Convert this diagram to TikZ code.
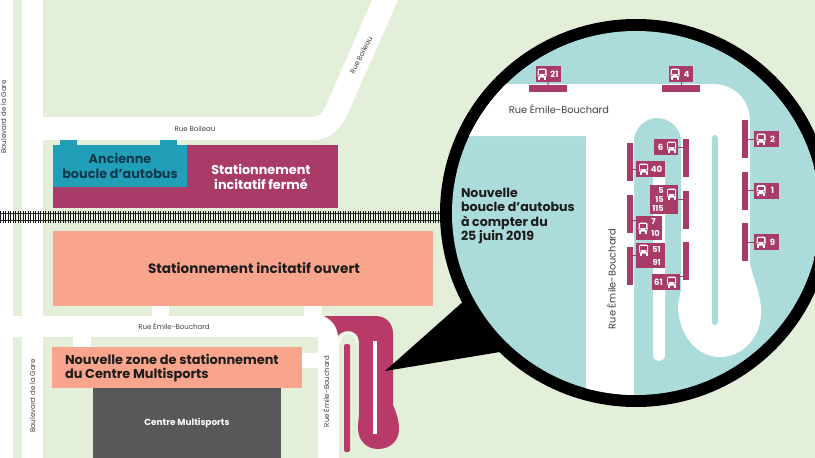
\documentclass[tikz,border=0pt]{standalone}
\usepackage{fontspec}
\setmainfont{Poppins}
\definecolor{bggreen}{HTML}{E3EFD8}
\definecolor{plum}{HTML}{A93B69}
\definecolor{loopred}{HTML}{B83A68}
\definecolor{oldteal}{HTML}{229FB8}
\definecolor{salmon}{HTML}{F9A58E}
\definecolor{slate}{HTML}{58585A}
\definecolor{paleteal}{HTML}{ABDBDB}
\definecolor{navy}{HTML}{0F3A4E}
\definecolor{ink}{HTML}{1D1D1B}
\tikzset{
  road/.style={fill=white, draw=none},
  lot/.style={inner sep=0pt, outer sep=0pt, align=center},
  roadlabel/.style={font=\fontsize{7}{8}\selectfont, text=ink!85, inner sep=0pt},
  stopbox/.style={fill=plum, inner sep=0pt, outer sep=0pt, minimum height=16pt},
  stopnum/.style={text=white, font=\bfseries\fontsize{8.6}{9}\selectfont, inner sep=0pt, align=right},
  hbar/.style={fill=plum, inner sep=0pt, outer sep=0pt, minimum width=38pt, minimum height=6.5pt},
  vbar/.style={fill=plum, inner sep=0pt, outer sep=0pt, minimum width=6pt, minimum height=38pt},
  stem/.style={draw=plum, line width=1pt},
  busicon/.pic={
    \fill[white, rounded corners=1.5pt] (-4.5,-5.5) rectangle (4.5,3.5);
    \fill[white] (-4,3) rectangle (-2,5.5);
    \fill[white] (2,3) rectangle (4,5.5);
    \fill[plum] (-3.2,-3.8) rectangle (3.2,-0.2);
    \fill[plum] (-3,1.2) circle (0.9);
    \fill[plum] (3,1.2) circle (0.9);
  }
}
\begin{document}
\begin{tikzpicture}[x=1pt, y=-1pt]
\useasboundingbox (0,0) rectangle (815,458);
\fill[bggreen] (0,0) rectangle (815,458);

\fill[road] (0,0) rectangle (13,458);
\fill[road] (22,0) rectangle (43,458);
\fill[road] (0,316) rectangle (324,337);
\fill[road] (43,117) -- (312,117) .. controls (318,117) and (322,114) .. (325,108) -- (372,0) -- (398,0) -- (352,104) .. controls (342,130) and (330,140) .. (312,140) -- (43,140) -- cycle;
\fill[road] (304,306) rectangle (322,320);
\fill[road] (152,306) rectangle (169,316);
\fill[road] (73,337) rectangle (91,347);
\fill[road] (302,353) rectangle (318,368);
\fill[road] (318,337) rectangle (339,458);
\fill[road] (312,316) .. controls (330,316) and (339,326) .. (339,340) -- (318,340) -- cycle;

\node[lot, fill=plum, minimum width=285pt, minimum height=63pt] (ferme) at (195.5,176.5) {};
\node[lot, fill=oldteal, minimum width=134pt, minimum height=42pt] (ancienne) at (120,166) {};
\fill[oldteal] (60,140) rectangle (77,146);
\fill[oldteal] (160,140) rectangle (177,146);
\node[lot, text=navy, font=\bfseries\fontsize{12.8}{14.5}\selectfont] (ancienneT) at (120,166) {Ancienne\\boucle d'autobus};
\node[lot, text=white, font=\bfseries\fontsize{12.8}{15}\selectfont] (fermeT) at (261,177) {Stationnement\\incitatif fermé};

\draw[black!85, line width=1.3pt] (0,213.5) -- (445,213.5);
\draw[black!85, line width=1.3pt] (0,220.5) -- (445,220.5);
\draw[black!90, line width=12pt, dash pattern=on 1.3pt off 1.2pt] (0,217) -- (445,217);

\node[lot, fill=salmon, minimum width=380pt, minimum height=75pt] (ouvert) at (243,268.5) {};
\node[lot, text=ink, font=\bfseries\fontsize{13.6}{15}\selectfont] (ouvertT) at (254,268) {Stationnement incitatif ouvert};
\node[lot, fill=salmon, minimum width=250pt, minimum height=41pt] (nouvelle) at (177,367.5) {};
\node[lot, text=ink, font=\bfseries\fontsize{12.9}{14.5}\selectfont, align=left, anchor=west] (nouvelleT) at (65,368) {Nouvelle zone de stationnement\\du Centre Multisports};
\node[lot, fill=slate, minimum width=188pt, minimum height=70pt, text=white, font=\bfseries\fontsize{8.9}{10}\selectfont] (centre) at (187,423) {Centre Multisports};

\node[roadlabel, rotate=90] (garehaut) at (3.5,117) {Boulevard de la Gare};
\node[roadlabel, rotate=90] (garebas) at (32.5,396) {Boulevard de la Gare};
\node[roadlabel] (boileau) at (195,128.5) {Rue Boileau};
\node[roadlabel, rotate=63] (boileauhaut) at (361,55) {Rue Boileau};
\node[roadlabel] (emile) at (174,326) {Rue Émile-Bouchard};
\node[roadlabel, rotate=90] (emilebas) at (326,391.5) {Rue Émile-Bouchard};

\fill[loopred] (324,316) -- (375,316) .. controls (386,316) and (393,323) .. (393,334) -- (393,405) .. controls (396,412) and (399,420) .. (399,429) .. controls (399,441) and (390,449) .. (378,449) .. controls (366,449) and (358,440) .. (358,428) .. controls (358,422) and (359,418) .. (359,414) -- (359,342) .. controls (359,335) and (354,331) .. (348,331) .. controls (344,331) and (340,333) .. (338,336) .. controls (337,326) and (332,320) .. (324,316) -- cycle;
\draw[white, line width=1.3pt] (340,343) .. controls (340,336) and (344,333) .. (348,333) .. controls (353,333) and (357,337) .. (357,343);
\fill[loopred, rounded corners=2pt] (344,344) rectangle (350,452);
\fill[white] (373,341) rectangle (377,434);

\fill[black] (385,371) -- (465,300) -- (500,352) -- cycle;
\fill[black] (636,213) ellipse (196 and 194);
\begin{scope}
\clip (636,213) ellipse (184 and 182);
\fill[paleteal] (430,20) rectangle (830,410);
\fill[road] (430,84) -- (712,84) .. controls (735,84) and (750,100) .. (750,122) -- (750,263) .. controls (753,280) and (762,295) .. (761,315) .. controls (760,338) and (742,357) .. (720,357) .. controls (697,357) and (678,335) .. (678,305) -- (681,290) -- (681,141) .. controls (681,128) and (670,118) .. (657,118) .. controls (645,118) and (634,128) .. (634,141) -- (634,410) -- (586,410) -- (586,136) -- (430,136) -- cycle;
\fill[road] (653,170) -- (665,170) -- (665,355) .. controls (665,359) and (662,361) .. (659,361) .. controls (656,361) and (653,359) .. (653,355) -- cycle;
\fill[paleteal, rounded corners=3pt] (712,135) rectangle (718,325);
\end{scope}

\node[lot, text=ink, font=\bfseries\fontsize{12.6}{14.5}\selectfont, align=left, anchor=west] (boucleT) at (461,216) {Nouvelle\\boucle d'autobus\\à compter du\\25 juin 2019};
\node[roadlabel, font=\fontsize{9.8}{11}\selectfont] (emilecercle) at (559,109) {Rue Émile-Bouchard};
\node[roadlabel, font=\fontsize{9.8}{11}\selectfont, rotate=90] (emilevert) at (611,279) {Rue Émile-Bouchard};

\node[hbar] (b21) at (548,88.5) {};
\node[stopbox, minimum width=25pt] (s21) at (548.5,74) {};
\draw[stem] (s21) -- (b21);
\pic at (542,74) {busicon};
\node[stopnum] (n21) at (554.5,74) {21};

\node[hbar] (b4) at (681,88.5) {};
\node[stopbox, minimum width=24pt] (s4) at (681,74) {};
\draw[stem] (s4) -- (b4);
\pic at (675,74) {busicon};
\node[stopnum] (n4) at (686.5,74) {4};

\node[vbar] (b2) at (745,139) {};
\node[stopbox, minimum width=25pt] (s2) at (766.5,139) {};
\draw[stem] (s2) -- (b2);
\pic at (761,139) {busicon};
\node[stopnum] (n2) at (772.5,139) {2};

\node[vbar] (b1) at (745,190.5) {};
\node[stopbox, minimum width=25pt] (s1) at (766.5,190.5) {};
\draw[stem] (s1) -- (b1);
\pic at (761,190.5) {busicon};
\node[stopnum] (n1) at (772.5,190.5) {1};

\node[vbar] (b9) at (745,242) {};
\node[stopbox, minimum width=25pt] (s9) at (766.5,242) {};
\draw[stem] (s9) -- (b9);
\pic at (761,242) {busicon};
\node[stopnum] (n9) at (772.5,242) {9};

\node[vbar] (b6) at (686,158) {};
\node[stopbox, minimum width=24pt] (s6) at (666,147) {};
\draw[stem] (s6.east) -- (s6.east -| b6.west);
\pic at (671.5,147) {busicon};
\node[stopnum] (n6) at (660.5,147) {6};

\node[vbar] (b40) at (630,162) {};
\node[stopbox, minimum width=29pt] (s40) at (650.5,169) {};
\draw[stem] (s40.west) -- (s40.west -| b40.east);
\pic at (643.5,169) {busicon};
\node[stopnum] (n40) at (656.5,169) {40};

\node[vbar] (b5) at (686,209.5) {};
\node[stopbox, minimum width=28pt, minimum height=29pt] (s5) at (664,199.5) {};
\draw[stem] (s5.east) -- (s5.east -| b5.west);
\pic at (671.5,194) {busicon};
\node[stopnum, font=\bfseries\fontsize{8.2}{9}\selectfont] (n5) at (658,199.5) {5\\15\\115};

\node[vbar] (b7) at (630,213.5) {};
\node[stopbox, minimum width=26pt, minimum height=24pt] (s7) at (649,228) {};
\draw[stem] (s7.north west) ++(0,4) -- ++(-3,0);
\pic at (643,228) {busicon};
\node[stopnum, font=\bfseries\fontsize{8.2}{12}\selectfont, align=left] (n7) at (655.5,228) {7\\10};

\node[vbar] (b51) at (630,265.5) {};
\node[stopbox, minimum width=29pt, minimum height=25pt] (s51) at (650.5,255.5) {};
\draw[stem] (s51.west) -- (s51.west -| b51.east);
\pic at (643.5,250) {busicon};
\node[stopnum, font=\bfseries\fontsize{8.2}{13}\selectfont] (n51) at (656.5,256.5) {51\\91};

\node[vbar] (b61) at (686,260.5) {};
\node[stopbox, minimum width=28pt] (s61) at (666,282) {};
\draw[stem] (s61.north east) ++(0,2) -- ++(3,0);
\pic at (671.5,282) {busicon};
\node[stopnum] (n61) at (658.5,282) {61};
\end{tikzpicture}
\end{document}
